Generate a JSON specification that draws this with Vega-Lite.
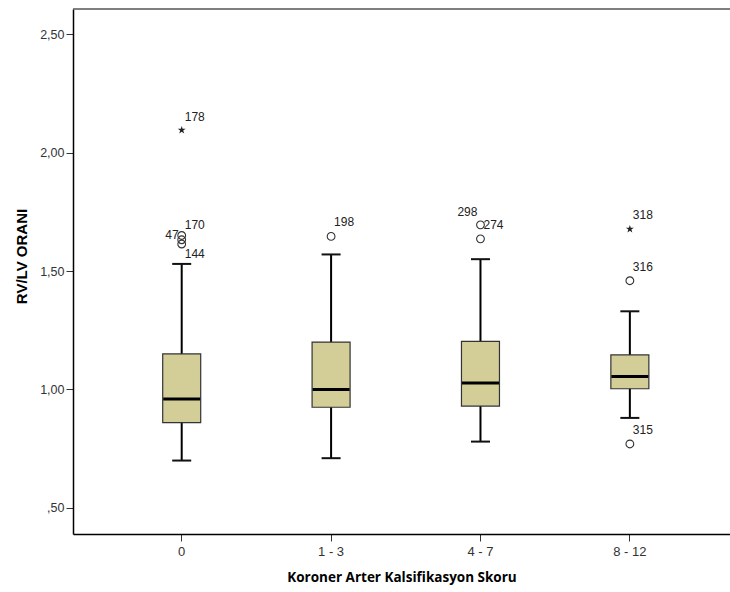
{
  "$schema": "https://vega.github.io/schema/vega-lite/v6.json",
  "width": 657,
  "height": 525,
  "autosize": "none",
  "padding": {"left": 73, "top": 9, "right": 0, "bottom": 58},
  "background": "white",
  "config": {
    "view": {"stroke": null},
    "axis": {
      "domainColor": "#000",
      "domainWidth": 1.5,
      "tickColor": "#333",
      "tickWidth": 1,
      "tickSize": 7,
      "labelFont": "Liberation Sans",
      "labelColor": "#333",
      "labelFontSize": 12.5,
      "titleColor": "#000",
      "grid": false
    }
  },
  "datasets": {
    "boxes": [
      {"group": "0", "lo": 0.70, "q1": 0.86, "med": 0.96, "q3": 1.15, "hi": 1.53},
      {"group": "1 - 3", "lo": 0.71, "q1": 0.925, "med": 1.00, "q3": 1.20, "hi": 1.57},
      {"group": "4 - 7", "lo": 0.78, "q1": 0.93, "med": 1.027, "q3": 1.203, "hi": 1.55},
      {"group": "8 - 12", "lo": 0.88, "q1": 1.003, "med": 1.055, "q3": 1.146, "hi": 1.33}
    ],
    "outliers": [
      {"group": "0", "v": 2.095, "kind": "star", "id": "178", "lv": 2.152, "side": "r"},
      {"group": "0", "v": 1.65, "kind": "circle", "id": "170", "lv": 1.695, "side": "r"},
      {"group": "0", "v": 1.632, "kind": "circle", "id": "47", "lv": 1.653, "side": "l"},
      {"group": "0", "v": 1.614, "kind": "circle", "id": "144", "lv": 1.573, "side": "r"},
      {"group": "1 - 3", "v": 1.646, "kind": "circle", "id": "198", "lv": 1.705, "side": "r"},
      {"group": "4 - 7", "v": 1.695, "kind": "circle", "id": "298", "lv": 1.751, "side": "l"},
      {"group": "4 - 7", "v": 1.636, "kind": "circle", "id": "274", "lv": 1.695, "side": "r"},
      {"group": "8 - 12", "v": 1.677, "kind": "star", "id": "318", "lv": 1.737, "side": "r"},
      {"group": "8 - 12", "v": 1.459, "kind": "circle", "id": "316", "lv": 1.516, "side": "r"},
      {"group": "8 - 12", "v": 0.77, "kind": "circle", "id": "315", "lv": 0.827, "side": "r"}
    ]
  },
  "layer": [
    {
      "data": {"name": "boxes"},
      "mark": {"type": "rule", "color": "#000", "strokeWidth": 2},
      "encoding": {
        "x": {
          "field": "group",
          "type": "nominal",
          "sort": ["0", "1 - 3", "4 - 7", "8 - 12"],
          "scale": {"type": "band", "domain": ["0", "1 - 3", "4 - 7", "8 - 12"], "paddingInner": 0, "paddingOuter": 0.199, "align": 0.572},
          "axis": {
            "title": "Koroner Arter Kalsifikasyon Skoru",
            "titleFont": "Open Sans",
            "titleFontWeight": "bold",
            "titleFontSize": 13.5,
            "titlePadding": 12,
            "labelAngle": 0,
            "labelPadding": 4,
            "labelFontSize": 13
          }
        },
        "y": {
          "field": "lo",
          "type": "quantitative",
          "scale": {"domain": [0.39, 2.606], "nice": false, "zero": false},
          "axis": {
            "title": "RV/LV ORANI",
            "titleFont": "Liberation Sans",
            "titleFontWeight": "bold",
            "titleFontSize": 15,
            "titlePadding": 10,
            "titleY": 247,
            "values": [0.5, 1, 1.5, 2, 2.5],
            "labelPadding": 2,
            "labelExpr": "datum.value < 1 ? ',' + substring(format(datum.value, '.2f'), 2) : replace(format(datum.value, '.2f'), '.', ',')"
          }
        },
        "y2": {"field": "hi"}
      }
    },
    {
      "data": {"name": "boxes"},
      "mark": {"type": "bar", "size": 38, "fill": "#D3CE97", "stroke": "#333", "strokeWidth": 1.2},
      "encoding": {
        "x": {"field": "group", "type": "nominal"},
        "y": {"field": "q1", "type": "quantitative"},
        "y2": {"field": "q3"}
      }
    },
    {
      "data": {"name": "boxes"},
      "mark": {"type": "tick", "size": 37, "thickness": 3, "color": "#000", "opacity": 1},
      "encoding": {
        "x": {"field": "group", "type": "nominal"},
        "y": {"field": "med", "type": "quantitative"}
      }
    },
    {
      "data": {"name": "boxes"},
      "mark": {"type": "tick", "size": 19, "thickness": 2, "color": "#111", "opacity": 1},
      "encoding": {
        "x": {"field": "group", "type": "nominal"},
        "y": {"field": "lo", "type": "quantitative"}
      }
    },
    {
      "data": {"name": "boxes"},
      "mark": {"type": "tick", "size": 19, "thickness": 2, "color": "#111", "opacity": 1},
      "encoding": {
        "x": {"field": "group", "type": "nominal"},
        "y": {"field": "hi", "type": "quantitative"}
      }
    },
    {
      "data": {"name": "outliers"},
      "transform": [{"filter": "datum.kind == 'circle'"}],
      "mark": {"type": "point", "shape": "circle", "size": 60, "filled": false, "stroke": "#333", "strokeWidth": 1.1, "opacity": 1},
      "encoding": {
        "x": {"field": "group", "type": "nominal"},
        "y": {"field": "v", "type": "quantitative"}
      }
    },
    {
      "data": {"name": "outliers"},
      "transform": [{"filter": "datum.kind == 'star'"}],
      "mark": {"type": "point", "shape": "M0,-1L0.22,-0.3L0.95,-0.31L0.36,0.12L0.59,0.81L0,0.38L-0.59,0.81L-0.36,0.12L-0.95,-0.31L-0.22,-0.3Z", "size": 70, "filled": true, "color": "#222", "opacity": 1},
      "encoding": {
        "x": {"field": "group", "type": "nominal"},
        "y": {"field": "v", "type": "quantitative"}
      }
    },
    {
      "data": {"name": "outliers"},
      "transform": [{"filter": "datum.side == 'r'"}],
      "mark": {"type": "text", "align": "left", "baseline": "middle", "dx": 3, "font": "Liberation Sans", "fontSize": 12, "color": "#222"},
      "encoding": {
        "x": {"field": "group", "type": "nominal"},
        "y": {"field": "lv", "type": "quantitative"},
        "text": {"field": "id"}
      }
    },
    {
      "data": {"name": "outliers"},
      "transform": [{"filter": "datum.side == 'l'"}],
      "mark": {"type": "text", "align": "right", "baseline": "middle", "dx": -3, "font": "Liberation Sans", "fontSize": 12, "color": "#222"},
      "encoding": {
        "x": {"field": "group", "type": "nominal"},
        "y": {"field": "lv", "type": "quantitative"},
        "text": {"field": "id"}
      }
    },
    {
      "data": {"values": [{}]},
      "mark": {"type": "rule", "color": "#555", "strokeWidth": 1.5},
      "encoding": {"y": {"datum": 2.606}}
    }
  ]
}
